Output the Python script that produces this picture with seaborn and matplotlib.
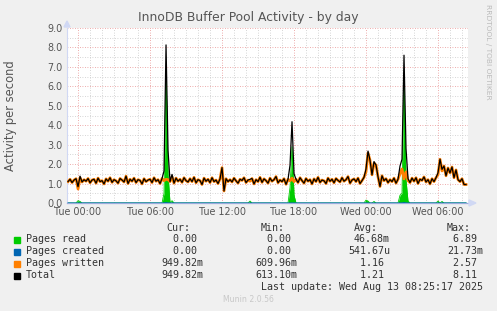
import numpy as np
import pandas as pd
import matplotlib
matplotlib.use("Agg")
import matplotlib.pyplot as plt
import seaborn as sns

# ---------------- data ----------------
title = "InnoDB Buffer Pool Activity - by day"
ylabel = "Activity per second"
tick_hours = [0, 6, 12, 18, 24, 30]
tick_labels = ["Tue 00:00", "Tue 06:00", "Tue 12:00", "Tue 18:00", "Wed 00:00", "Wed 06:00"]
y_ticks = [0.0, 1.0, 2.0, 3.0, 4.0, 5.0, 6.0, 7.0, 8.0, 9.0]

start_time = "2025-08-11 23:10"
n_points = 200

pages_written = [
    1.10, 1.22, 1.05, 1.18, 1.25, 0.72, 1.30, 1.08, 1.20, 1.12,
    1.26, 1.04, 1.18, 1.22, 1.02, 1.28, 1.10, 1.15, 0.98, 1.24,
    1.12, 1.30, 1.06, 1.20, 1.14, 1.02, 1.26, 1.18, 1.08, 1.38,
    1.00, 1.22, 1.12, 1.28, 1.05, 1.20, 1.16, 0.98, 1.25, 1.10,
    1.18,
    1.22, 1.05, 1.30, 1.12, 1.20, 1.00, 1.26, 1.15, 1.22, 1.20,
    1.10, 1.35, 1.02, 1.28, 1.12, 1.22, 1.06, 1.30, 1.15, 1.08,
    1.25, 1.10, 1.32, 1.04, 1.20, 1.15, 0.95, 1.28, 1.12, 1.22,
    1.05, 1.30, 1.10, 1.18, 1.00, 1.24,
    1.82, 0.62, 1.25, 1.10,
    1.20, 1.08, 1.28, 1.14, 1.02, 1.22, 1.16, 1.30, 1.05, 1.18,
    1.12, 1.26, 0.98, 1.20, 1.10, 1.32, 1.06, 1.24, 1.15, 1.02,
    1.28, 1.12, 1.20, 1.36, 1.04, 1.18, 1.10, 1.25, 0.96, 1.22,
    1.14, 1.28,
    1.10, 1.22, 1.05, 1.30, 1.15, 1.02, 1.26, 1.12, 1.20, 0.98,
    1.24, 1.10, 1.32, 1.06, 1.18, 1.14, 1.00, 1.28, 1.12, 1.22,
    1.04, 1.26, 1.16, 1.08, 1.30, 1.12, 1.20, 1.36, 1.02, 1.18,
    1.24, 1.10, 1.28, 1.00, 1.15, 1.32,
    1.60, 2.57, 2.20, 1.45, 2.05, 1.95, 1.35, 0.85, 1.40, 1.15,
    1.25, 1.05, 1.20, 1.10, 1.28, 1.02, 1.22, 1.50, 1.75,
    1.24, 1.60, 1.15, 1.05, 1.28, 1.12, 1.30, 1.00, 1.22, 1.16,
    1.34, 1.08, 1.20, 0.98, 1.25, 1.10, 1.30,
    1.45, 2.25, 1.65, 1.90, 1.40, 1.80, 1.55, 1.85, 1.30, 1.70,
    1.20, 1.10, 1.25, 0.95, 0.95,
]

pages_read = [
    0, 0, 0, 0, 0, 0.12, 0.08, 0, 0, 0,
    0, 0, 0, 0, 0, 0, 0, 0, 0, 0,
    0, 0, 0, 0, 0, 0, 0, 0, 0, 0,
    0, 0, 0, 0, 0, 0, 0, 0, 0, 0,
    0, 0, 0, 0, 0, 0, 0, 0, 0.50, 6.89,
    1.50, 0, 0.12, 0, 0, 0, 0, 0, 0, 0,
    0, 0, 0, 0, 0, 0, 0, 0, 0, 0,
    0, 0, 0, 0, 0, 0, 0, 0, 0, 0,
    0, 0, 0, 0, 0, 0, 0, 0, 0, 0,
    0, 0.10, 0, 0, 0, 0, 0, 0, 0, 0,
    0, 0, 0, 0, 0, 0, 0, 0, 0, 0,
    0, 0.80, 2.90, 0.40, 0, 0, 0, 0, 0, 0,
    0, 0, 0, 0, 0, 0, 0, 0, 0, 0,
    0, 0, 0, 0, 0, 0, 0, 0, 0, 0,
    0, 0, 0, 0, 0, 0, 0, 0, 0, 0.15,
    0.10, 0, 0, 0.08, 0, 0, 0, 0, 0, 0,
    0, 0, 0, 0, 0, 0, 0.40, 0.50, 6.34, 1.20,
    0.10, 0, 0, 0, 0, 0, 0, 0, 0, 0,
    0, 0, 0, 0, 0, 0.10, 0, 0.08, 0, 0,
    0, 0, 0, 0, 0, 0, 0, 0, 0, 0,
]

pages_created = [0.0] * 49 + [0.02] + [0.0] * 118 + [0.02] + [0.0] * 31

legend_names = ["Pages read", "Pages created", "Pages written", "Total"]
cur_vals = ["0.00 ", "0.00 ", "949.82m", "949.82m"]
min_vals = ["0.00 ", "0.00 ", "609.96m", "613.10m"]
avg_vals = ["46.68m", "541.67u", "1.16 ", "1.21 "]
max_vals = ["6.89 ", "21.73m", "2.57 ", "8.11 "]
last_update = "Last update: Wed Aug 13 08:25:17 2025"
footer = "Munin 2.0.56"
side_text = "RRDTOOL / TOBI OETIKER"

colors = ["#00CC00", "#0066B3", "#FF8000", "#000000"]

# ---------------- frame ----------------
times = pd.date_range(start_time, periods=n_points, freq="10min")
hours = (times - pd.Timestamp("2025-08-12 00:00")) / pd.Timedelta(hours=1)
df = pd.DataFrame({
    "hours": np.asarray(hours, dtype=float),
    "read": pages_read,
    "created": pages_created,
    "written": pages_written,
})
df["total"] = df["read"] + df["created"] + df["written"]

W, H = 497, 311
BG = "#F0F0F0"
fig = plt.figure(figsize=(W / 100, H / 100), dpi=100, facecolor=BG)
L, R, T, B = 67, 468, 28, 203
ax = fig.add_axes([L / W, 1 - B / H, (R - L) / W, (B - T) / H])
ax.set_facecolor("white")

# grid
for x in np.arange(-0.0, 33, 1.0):
    if x % 6 != 0:
        ax.axvline(x, color="#C8C8C8", lw=0.6, ls=(0, (1, 2)), zorder=0)
for y in np.arange(0.5, 9.0, 1.0):
    ax.axhline(y, color="#C8C8C8", lw=0.6, ls=(0, (1, 2)), zorder=0)
for x in tick_hours:
    ax.axvline(x, color="#E89090", lw=0.6, ls=(0, (1, 2)), zorder=0.5)
for y in y_ticks[1:]:
    ax.axhline(y, color="#E89090", lw=0.6, ls=(0, (1, 2)), zorder=0.5)

# series
ax.fill_between(df["hours"], 0, df["read"], color=colors[0], lw=0, zorder=2)
sns.lineplot(data=df, x="hours", y="read", ax=ax, color=colors[0], lw=0.6, zorder=2)
sns.lineplot(data=df, x="hours", y="created", ax=ax, color=colors[1], lw=0.8, zorder=3)
sns.lineplot(data=df, x="hours", y="written", ax=ax, color=colors[2], lw=2.0, zorder=4)
sns.lineplot(data=df, x="hours", y="total", ax=ax, color=colors[3], lw=0.9, zorder=5)

ax.set_xlim(-0.92, 32.5)
ax.set_ylim(0, 9.0)
ax.set_xticks(tick_hours)
ax.set_xticklabels(tick_labels)
ax.set_yticks(y_ticks)
ax.set_yticklabels([f"{v:.1f}" for v in y_ticks])
ax.tick_params(axis="both", length=0, labelsize=6.9, colors="#555555", pad=3)
ax.set_xlabel("")
ax.set_ylabel(ylabel, fontsize=8.3, color="#555555", labelpad=22)
for s in ["top", "right"]:
    ax.spines[s].set_visible(False)
ax.spines["left"].set_color("#D0D8F4")
ax.spines["left"].set_linewidth(0.8)
ax.spines["bottom"].set_color("#99AADD")
ax.spines["bottom"].set_linewidth(0.9)

# axis arrows
fig.patches.append(plt.Polygon([[L / W - 3 / W, 1 - 27 / H], [L / W + 3 / W, 1 - 27 / H], [L / W, 1 - 21 / H]],
                               closed=True, transform=fig.transFigure, color="#D0D8F4", zorder=10))
fig.patches.append(plt.Polygon([[469 / W, 1 - 200 / H], [469 / W, 1 - 206 / H], [476 / W, 1 - 203 / H]],
                               closed=True, transform=fig.transFigure, color="#D0D8F4", zorder=10))

fig.text(248 / W, 1 - 18 / H, title, ha="center", va="center", fontsize=8.9, color="#555555")
fig.text(488 / W, 1 - 52 / H, side_text, ha="center", va="center", rotation=270,
         fontsize=5.4, color="#BBBBBB")

# legend
mono = "DejaVu Sans Mono"
fs = 7.2
tc = "#333333"
def fy(y):
    return 1 - y / H
col_right = [203, 297, 390, 483]
headers = ["Cur:", "Min:", "Avg:", "Max:"]
for xr, h in zip(col_right, headers):
    fig.text((xr - 12.5) / W, fy(228), h, ha="right", va="center", family=mono, fontsize=fs, color=tc)
row_y = [239.5, 251.5, 263.5, 275.5]
for i, name in enumerate(legend_names):
    y = row_y[i]
    fig.patches.append(plt.Rectangle((14 / W, fy(y + 3)), 6 / W, 6 / H, transform=fig.transFigure,
                                     color=colors[i], zorder=10))
    fig.text(26 / W, fy(y), name, ha="left", va="center", family=mono, fontsize=fs, color=tc)
    for xr, vals in zip(col_right, [cur_vals, min_vals, avg_vals, max_vals]):
        fig.text(xr / W, fy(y), vals[i], ha="right", va="center", family=mono, fontsize=fs, color=tc)
fig.text(483 / W, fy(287.5), last_update, ha="right", va="center", family=mono, fontsize=fs, color=tc)
fig.text(248 / W, fy(300), footer, ha="center", va="center", fontsize=5.6, color="#C8C8C8")

fig.savefig("out.png", dpi=100, facecolor=BG)
